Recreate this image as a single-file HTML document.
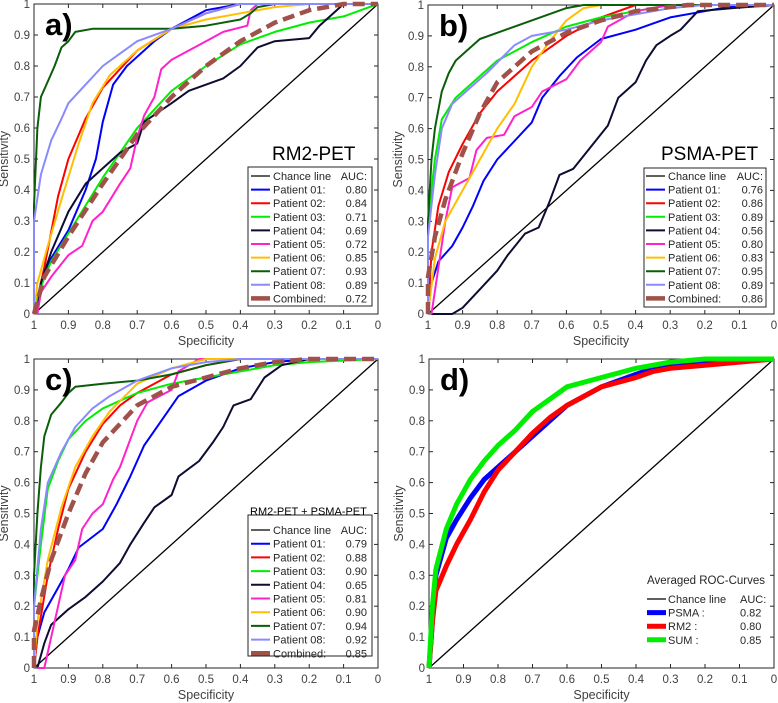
<!DOCTYPE html>
<html><head><meta charset="utf-8"><style>
body{margin:0;background:#fff;}
svg{display:block;font-family:"Liberation Sans",sans-serif;}
</style></head><body>
<svg id="chart" width="778" height="703" viewBox="0 0 778 703"></svg>
<script>
// ---------- data: [specificity, sensitivity] ----------
const a_p01=[[1,0],[0.98,0.1],[0.95,0.18],[0.9,0.27],[0.85,0.4],[0.82,0.5],[0.8,0.62],[0.77,0.74],[0.73,0.8],[0.65,0.88],[0.6,0.92],[0.5,0.98],[0.4,1],[0,1]];
const a_p02=[[1,0],[0.97,0.15],[0.93,0.38],[0.9,0.5],[0.85,0.63],[0.8,0.73],[0.75,0.79],[0.7,0.85],[0.6,0.92],[0.5,0.97],[0.4,1],[0,1]];
const a_p03=[[1,0],[0.99,0.06],[0.95,0.17],[0.9,0.26],[0.85,0.35],[0.8,0.44],[0.7,0.6],[0.6,0.72],[0.5,0.8],[0.4,0.87],[0.3,0.91],[0.2,0.94],[0.1,0.96],[0.05,0.98],[0,1]];
const a_p04=[[0.99,0],[0.98,0.1],[0.95,0.2],[0.9,0.33],[0.85,0.42],[0.8,0.47],[0.75,0.52],[0.7,0.55],[0.68,0.62],[0.6,0.68],[0.55,0.72],[0.45,0.76],[0.4,0.8],[0.35,0.86],[0.3,0.88],[0.2,0.89],[0.17,0.93],[0.12,0.98],[0.1,1],[0,1]];
const a_p05=[[0.99,0],[0.98,0.07],[0.95,0.12],[0.9,0.19],[0.86,0.22],[0.83,0.3],[0.8,0.33],[0.75,0.42],[0.72,0.47],[0.7,0.57],[0.68,0.64],[0.65,0.7],[0.63,0.79],[0.6,0.82],[0.55,0.85],[0.5,0.88],[0.45,0.91],[0.38,0.93],[0.37,0.98],[0.35,1],[0,1]];
const a_p06=[[1,0],[0.99,0.1],[0.96,0.22],[0.92,0.37],[0.87,0.55],[0.83,0.68],[0.78,0.77],[0.7,0.85],[0.6,0.92],[0.5,0.95],[0.4,0.97],[0.3,0.99],[0.2,1],[0,1]];
const a_p07=[[1,0],[1,0.35],[0.99,0.6],[0.98,0.7],[0.96,0.75],[0.94,0.8],[0.92,0.86],[0.9,0.88],[0.88,0.91],[0.83,0.92],[0.6,0.92],[0.5,0.93],[0.4,0.95],[0.37,0.97],[0.35,0.99],[0.3,1],[0,1]];
const a_p08=[[1,0],[1,0.3],[0.98,0.45],[0.95,0.56],[0.92,0.63],[0.9,0.68],[0.85,0.74],[0.8,0.8],[0.75,0.84],[0.7,0.88],[0.6,0.92],[0.5,0.97],[0.4,1],[0,1]];
const a_comb=[[1,0],[0.97,0.12],[0.9,0.25],[0.8,0.42],[0.7,0.58],[0.6,0.7],[0.5,0.8],[0.4,0.88],[0.3,0.94],[0.2,0.98],[0.1,1],[0,1]];
const a_auc=["0.80","0.84","0.71","0.69","0.72","0.85","0.93","0.89","0.72"];

const b_p01=[[1,0],[0.99,0.1],[0.97,0.17],[0.93,0.22],[0.9,0.28],[0.87,0.35],[0.84,0.43],[0.8,0.5],[0.75,0.56],[0.7,0.62],[0.67,0.7],[0.62,0.77],[0.57,0.83],[0.5,0.89],[0.4,0.92],[0.3,0.96],[0.2,0.98],[0.1,1],[0,1]];
const b_p02=[[1,0],[0.99,0.2],[0.97,0.35],[0.94,0.46],[0.9,0.55],[0.85,0.65],[0.8,0.72],[0.7,0.82],[0.6,0.9],[0.5,0.96],[0.4,1],[0,1]];
const b_p03=[[1,0],[1,0.3],[0.98,0.5],[0.96,0.63],[0.92,0.7],[0.85,0.77],[0.8,0.82],[0.7,0.88],[0.6,0.93],[0.5,0.96],[0.4,0.98],[0.3,1],[0,1]];
const b_p04=[[0.99,0],[0.93,0],[0.9,0.02],[0.85,0.08],[0.8,0.14],[0.77,0.19],[0.72,0.26],[0.68,0.28],[0.65,0.36],[0.62,0.45],[0.58,0.47],[0.53,0.54],[0.48,0.61],[0.45,0.7],[0.4,0.75],[0.37,0.82],[0.34,0.87],[0.3,0.9],[0.27,0.92],[0.22,0.98],[0.12,0.99],[0,1]];
const b_p05=[[0.99,0],[0.97,0.15],[0.95,0.3],[0.93,0.41],[0.88,0.44],[0.86,0.53],[0.83,0.57],[0.78,0.58],[0.75,0.64],[0.7,0.67],[0.67,0.72],[0.6,0.76],[0.56,0.82],[0.5,0.88],[0.48,0.93],[0.4,0.98],[0.3,1],[0,1]];
const b_p06=[[1,0],[0.98,0.18],[0.95,0.3],[0.9,0.4],[0.85,0.5],[0.8,0.6],[0.75,0.68],[0.7,0.8],[0.65,0.88],[0.6,0.95],[0.55,0.99],[0.5,1],[0,1]];
const b_p07=[[1,0],[1,0.3],[0.99,0.5],[0.98,0.6],[0.96,0.72],[0.94,0.78],[0.92,0.82],[0.88,0.86],[0.85,0.89],[0.8,0.91],[0.7,0.95],[0.6,0.99],[0.55,1],[0,1]];
const b_p08=[[1,0],[1,0.25],[0.98,0.45],[0.96,0.6],[0.93,0.68],[0.88,0.73],[0.83,0.78],[0.75,0.87],[0.7,0.9],[0.6,0.92],[0.5,0.95],[0.4,0.97],[0.3,0.99],[0.2,1],[0,1]];
const b_comb=[[1,0],[1,0.12],[0.98,0.25],[0.95,0.37],[0.9,0.52],[0.85,0.65],[0.8,0.75],[0.7,0.85],[0.6,0.91],[0.5,0.95],[0.4,0.98],[0.25,1],[0,1]];
const b_auc=["0.76","0.86","0.89","0.56","0.80","0.83","0.95","0.89","0.86"];

const c_p01=[[1,0],[0.99,0.1],[0.97,0.18],[0.93,0.26],[0.9,0.32],[0.87,0.39],[0.8,0.45],[0.76,0.53],[0.72,0.62],[0.68,0.72],[0.63,0.8],[0.58,0.88],[0.5,0.93],[0.4,0.97],[0.3,0.99],[0.2,1],[0,1]];
const c_p02=[[1,0],[0.99,0.1],[0.96,0.3],[0.93,0.45],[0.9,0.58],[0.85,0.7],[0.8,0.79],[0.75,0.85],[0.7,0.89],[0.6,0.95],[0.5,0.98],[0.4,1],[0,1]];
const c_p03=[[1,0],[1,0.2],[0.98,0.4],[0.96,0.58],[0.93,0.67],[0.9,0.74],[0.85,0.8],[0.8,0.84],[0.7,0.89],[0.6,0.92],[0.5,0.94],[0.4,0.96],[0.3,0.98],[0.2,0.99],[0,1]];
const c_p04=[[0.99,0],[0.97,0.08],[0.95,0.14],[0.9,0.19],[0.85,0.23],[0.8,0.28],[0.75,0.34],[0.72,0.4],[0.68,0.47],[0.65,0.52],[0.6,0.56],[0.58,0.62],[0.52,0.67],[0.48,0.73],[0.45,0.78],[0.42,0.85],[0.37,0.87],[0.33,0.94],[0.28,0.98],[0.2,1],[0,1]];
const c_p05=[[0.99,0],[0.97,0],[0.95,0.1],[0.93,0.2],[0.91,0.3],[0.88,0.35],[0.86,0.45],[0.83,0.5],[0.8,0.53],[0.77,0.61],[0.75,0.65],[0.72,0.74],[0.7,0.8],[0.67,0.86],[0.6,0.9],[0.58,0.96],[0.52,1],[0,1]];
const c_p06=[[1,0],[0.99,0.15],[0.96,0.35],[0.92,0.52],[0.88,0.65],[0.83,0.75],[0.78,0.83],[0.7,0.92],[0.6,0.97],[0.5,1],[0,1]];
const c_p07=[[1,0],[1,0.3],[0.99,0.5],[0.98,0.65],[0.97,0.75],[0.95,0.82],[0.92,0.86],[0.9,0.89],[0.88,0.91],[0.8,0.92],[0.7,0.93],[0.6,0.95],[0.5,0.98],[0.4,1],[0,1]];
const c_p08=[[1,0],[1,0.2],[0.98,0.45],[0.96,0.6],[0.92,0.7],[0.88,0.78],[0.83,0.84],[0.78,0.88],[0.7,0.93],[0.6,0.97],[0.5,0.99],[0.4,1],[0,1]];
const c_comb=[[1,0],[1,0.12],[0.98,0.22],[0.95,0.35],[0.9,0.5],[0.85,0.63],[0.8,0.73],[0.7,0.85],[0.6,0.91],[0.5,0.94],[0.4,0.97],[0.3,0.99],[0.2,1],[0,1]];
const c_auc=["0.79","0.88","0.90","0.65","0.81","0.90","0.94","0.92","0.85"];

const d_psma=[[1,0],[0.99,0.15],[0.98,0.3],[0.95,0.42],[0.92,0.48],[0.88,0.55],[0.84,0.61],[0.8,0.65],[0.75,0.7],[0.7,0.75],[0.65,0.8],[0.6,0.85],[0.5,0.91],[0.4,0.95],[0.35,0.97],[0.3,0.98],[0.2,0.99],[0,1]];
const d_rm2=[[1,0],[0.99,0.15],[0.98,0.25],[0.95,0.33],[0.92,0.4],[0.88,0.48],[0.84,0.57],[0.8,0.64],[0.75,0.7],[0.7,0.76],[0.65,0.81],[0.6,0.85],[0.5,0.91],[0.4,0.94],[0.35,0.96],[0.3,0.97],[0.2,0.98],[0.1,0.99],[0,1]];
const d_sum=[[1,0],[0.99,0.2],[0.98,0.32],[0.95,0.45],[0.92,0.53],[0.88,0.61],[0.84,0.67],[0.8,0.72],[0.75,0.77],[0.7,0.83],[0.65,0.87],[0.6,0.91],[0.5,0.94],[0.4,0.97],[0.3,0.99],[0.2,1],[0,1]];
const d_auc=["0.82","0.80","0.85"];

const tickVals=[0,0.1,0.2,0.3,0.4,0.5,0.6,0.7,0.8,0.9,1];
const tickLabels=["0","0.1","0.2","0.3","0.4","0.5","0.6","0.7","0.8","0.9","1"];
const patientNames=["Patient 01:","Patient 02:","Patient 03:","Patient 04:","Patient 05:","Patient 06:","Patient 07:","Patient 08:","Combined:"];
const avgNames=["PSMA :","RM2 :","SUM :"];

// ---------- drawing ----------
const NS="http://www.w3.org/2000/svg";
const svg=document.getElementById('chart');
function mk(tag,attrs,parent,text){const e=document.createElementNS(NS,tag);for(const k in attrs)e.setAttribute(k,attrs[k]);if(text!==undefined)e.textContent=text;(parent||svg).appendChild(e);return e;}
const colors=["#0000ff","#ff0000","#00ee00","#0d0d33","#ff22cc","#ffbf00","#0a5e0a","#8a8aff","#a0524a"];

function panel(key,x0,x1,y0,y1,series,cols,widths,dashes){
  const g=mk('g',{});
  
  
  const sx=v=>x0+(1-v)*(x1-x0);
  const sy=v=>y0-v*(y0-y1);
  const box=mk('rect',{x:x0,y:y1,width:x1-x0,height:y0-y1,fill:'#fff',stroke:'#262626','stroke-width':1},g);
  
  
  tickVals.forEach((t,i)=>{
    const X=sx(t),Y=sy(t);
    mk('line',{x1:X,y1:y0,x2:X,y2:y0-4,stroke:'#262626'},g);
    mk('line',{x1:X,y1:y1,x2:X,y2:y1+4,stroke:'#262626'},g);
    mk('line',{x1:x0,y1:Y,x2:x0+4,y2:Y,stroke:'#262626'},g);
    mk('line',{x1:x1,y1:Y,x2:x1-4,y2:Y,stroke:'#262626'},g);
    const xl=mk('text',{x:X,y:y0+15,'text-anchor':'middle','font-size':11.5,fill:'#404040'},g,tickLabels[i]);
    
    
    const yl=mk('text',{x:x0-4,y:Y+4,'text-anchor':'end','font-size':11.5,fill:'#404040'},g,tickLabels[i]);
    
    
  });
  const xt=mk('text',{x:(x0+x1)/2,y:y0+31,'text-anchor':'middle','font-size':12.5,fill:'#404040'},g,'Specificity');
  
  
  const yt=mk('text',{x:0,y:0,'text-anchor':'middle','font-size':12.5,fill:'#404040',transform:`translate(${x0-26},${(y0+y1)/2}) rotate(-90)`},g,'Sensitivity');
  
  
  const ch=mk('line',{x1:sx(1),y1:sy(0),x2:sx(0),y2:sy(1),stroke:'#000','stroke-width':1.3},g);
  
  
  series.forEach((s,i)=>{
    const d=s.map((p,j)=>(j?'L':'M')+sx(p[0]).toFixed(1)+','+sy(p[1]).toFixed(1)).join('');
    const a={d:d,fill:'none',stroke:cols[i],'stroke-width':widths[i],'stroke-linejoin':'round'};
    if(dashes[i])a['stroke-dasharray']=dashes[i];
    const p=mk('path',a,g);
    
    
  });
  const lb=mk('text',{x:x0+11,y:y1+31,'font-size':31,'font-weight':'bold',fill:'#000'},g,key+')');
  
  
  return g;
}

function legend(g,bx,by,bw,bh,rows,lineX,textX,valX,names,aucs,cols,widths,boxed){
  if(boxed){const r=mk('rect',{x:bx,y:by,width:bw,height:bh,fill:'#fff',stroke:'#262626'},g);
    
    }
  const all=[['Chance line','AUC:','#000',1.3]].concat(names.map((n,i)=>[n,aucs[i],cols[i],widths[i]]));
  all.forEach((r,i)=>{
    const y=rows[0]+i*(rows[1]);
    const l=mk('line',{x1:lineX,y1:y,x2:lineX+19,y2:y,stroke:r[2],'stroke-width':r[3]},g);
    
    
    const t=mk('text',{x:textX,y:y+4,'font-size':11,fill:'#262626'},g,r[0]);
    
    
    const v=mk('text',{x:valX,y:y+4,'font-size':11,fill:'#262626','text-anchor':boxed?'end':'start'},g,r[1]);
    
    
  });
}

const W=[2,2,2,2,2,2,2,2,4.5], D=[0,0,0,0,0,0,0,0,'12,6'];
const ga=panel('a',34,378,314,4,[a_p01,a_p02,a_p03,a_p04,a_p05,a_p06,a_p07,a_p08,a_comb],colors,W,D);
legend(ga,248,167,124,139,[176,13.6],251,273,367,patientNames,a_auc,colors,W,true);
const ta=mk('text',{x:272,y:160,'font-size':19,fill:'#000'},ga,'RM2-PET');



const gb=panel('b',428,774,314,5,[b_p01,b_p02,b_p03,b_p04,b_p05,b_p06,b_p07,b_p08,b_comb],colors,W,D);
legend(gb,644,168,122,139,[176,13.6],646,668,763,patientNames,b_auc,colors,W,true);
const tb=mk('text',{x:661,y:160,'font-size':19,fill:'#000'},gb,'PSMA-PET');



const gc=panel('c',34,378,668,359,[c_p01,c_p02,c_p03,c_p04,c_p05,c_p06,c_p07,c_p08,c_comb],colors,W,D);
legend(gc,248,515,124,141,[530,13.7],251,273,367,patientNames,c_auc,colors,W,true);
const tc=mk('text',{x:250,y:515,'font-size':11,fill:'#000'},gc,'RM2-PET + PSMA-PET');



const dc=["#0000ff","#ff0000","#00ee00"], dw=[5,5,5];
const gd=panel('d',429,774,668,359,[d_psma,d_rm2,d_sum],dc,dw,[0,0,0]);
legend(gd,0,0,0,0,[599,13.6],647,668,740,avgNames,d_auc,dc,dw,false);
const td=mk('text',{x:647,y:584,'font-size':11.5,fill:'#262626'},gd,'Averaged ROC-Curves');


</script>
</body></html>
